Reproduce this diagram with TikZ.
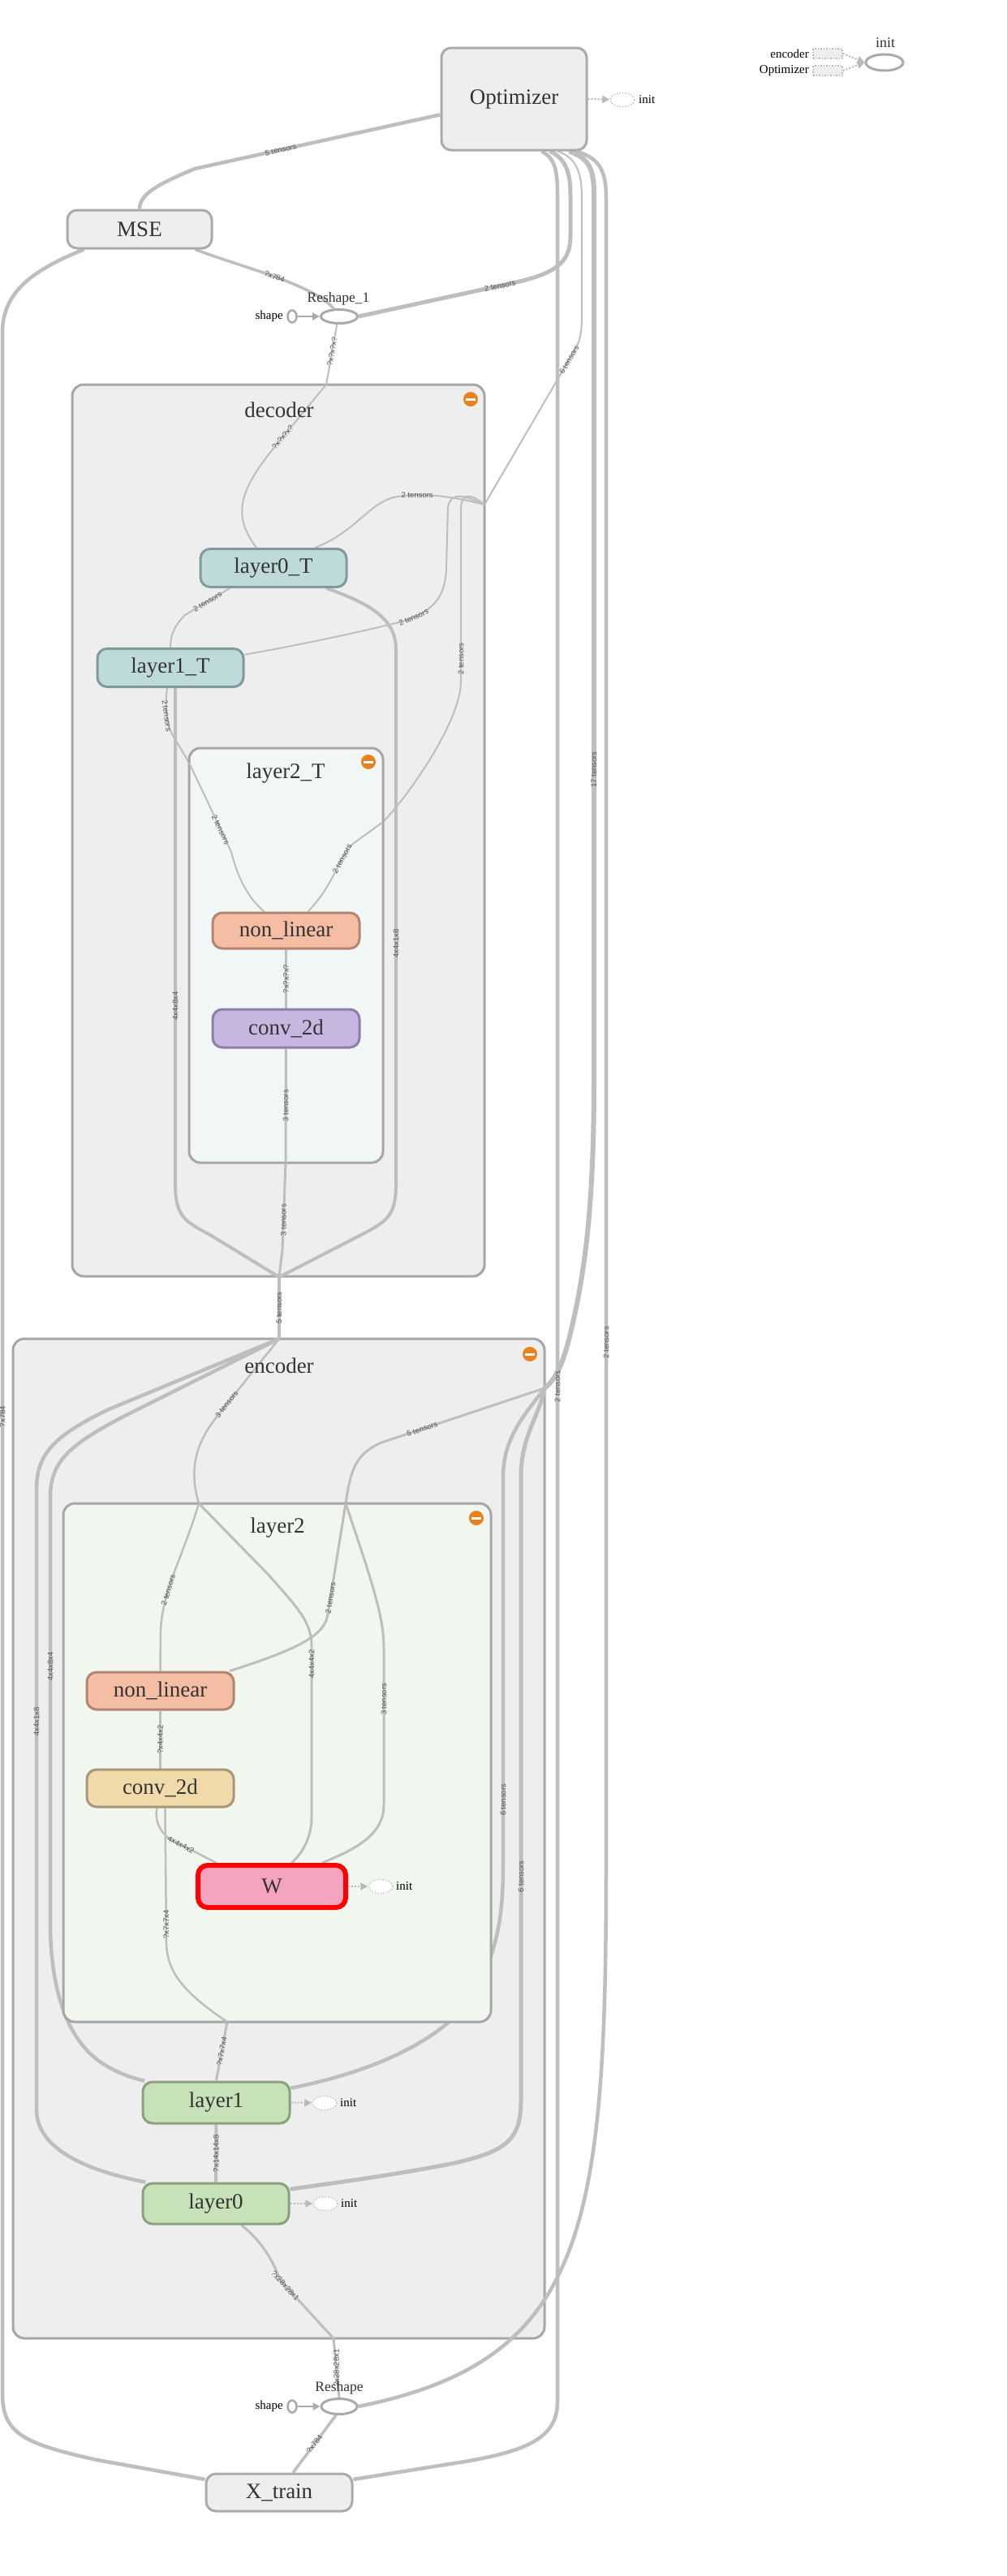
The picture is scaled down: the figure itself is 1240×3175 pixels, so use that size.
\documentclass[tikz,border=0pt]{standalone}
\usepackage{fontspec}
\setmainfont{Liberation Serif}
\setsansfont{Liberation Sans}
\usetikzlibrary{calc,arrows.meta,shapes.geometric}
\pgfdeclarelayer{groups}
\pgfdeclarelayer{flows}
\pgfdeclarelayer{inner}
\pgfsetlayers{groups,flows,inner,main}

\begin{document}
\begin{tikzpicture}[>=Latex, x=1pt, y=-1pt,
  opnode/.style 2 args={draw=#2, fill=#1, line width=3pt, rounded corners=12pt,
    minimum width=180pt, minimum height=47pt, inner sep=0pt, font=\nodefont, text=txt},
  grp/.style={draw=grpline, fill=#1, line width=3pt, rounded corners=14pt, inner sep=0pt},
  grptitle/.style={font=\nodefont, text=txt},
  flow/.style={draw=edgec, line width=#1},
  flow/.default=2pt,
  lbl/.style={font=\lblfont, text=lblc, sloped, inner sep=1pt},
  vlbl/.style={font=\lblfont, text=lblc, rotate=90, inner sep=1pt},
  smalltxt/.style={font=\smallfont, text=black, inner sep=1pt},
  initc/.style={ellipse, draw=gray!45, dotted, line width=1.5pt, fill=white,
    minimum width=30pt, minimum height=17pt, inner sep=0pt},
  ctrl/.style={draw=gray!55, dotted, line width=2pt, -{Triangle[length=9pt,width=9pt]}},
  arr/.style={draw=nodeline, line width=2.5pt, -{Triangle[length=9pt,width=9pt]}},
  ellnode/.style={ellipse, draw=nodeline, line width=3pt, fill=white, inner sep=0pt},
  legbox/.style={draw=gray!55, dotted, line width=1.5pt, fill=grpfill,
    minimum width=36pt, minimum height=12pt, inner sep=0pt}]

\def\nodefont{\fontsize{27}{30}\selectfont}
\def\lblfont{\fontsize{9.5}{10}\sffamily}
\def\smallfont{\fontsize{15}{17}\selectfont}

\definecolor{txt}{HTML}{333333}
\definecolor{lblc}{HTML}{555555}
\definecolor{edgec}{HTML}{BEBEBE}
\definecolor{grpfill}{HTML}{EEEEEE}
\definecolor{grpline}{HTML}{A6A6A6}
\definecolor{subTfill}{HTML}{F0F7F6}
\definecolor{subfill}{HTML}{F1F6EF}
\definecolor{nodeline}{HTML}{AAAAAA}
\definecolor{tealf}{HTML}{BEDBDA}
\definecolor{teall}{HTML}{7F9A9A}
\definecolor{salmf}{HTML}{F4BDA4}
\definecolor{salml}{HTML}{B18570}
\definecolor{purpf}{HTML}{C7B6E0}
\definecolor{purpl}{HTML}{8E7FA6}
\definecolor{tanf}{HTML}{F1DAA9}
\definecolor{tanl}{HTML}{A8967A}
\definecolor{pinkf}{HTML}{F5A4BF}
\definecolor{greenf}{HTML}{C7E2B8}
\definecolor{greenl}{HTML}{8BA17E}
\definecolor{orangec}{HTML}{E8821E}

\begin{pgfonlayer}{groups}
  \fill[white] (0,0) rectangle (1240,3175);
  \node[grp=grpfill, minimum width=508pt, minimum height=1099pt] (decoder) at (343,1023.5) {};
  \node[grp=grpfill, minimum width=655pt, minimum height=1232pt] (encoder) at (343.5,2266) {};
\end{pgfonlayer}
\useasboundingbox (0,0) rectangle (1240,3175);

\node[grptitle] (dectitle) at (344,505) {decoder};
\node[grptitle] (enctitle) at (344,1683) {encoder};

\begin{pgfonlayer}{inner}
  \node[grp=subTfill, minimum width=239pt, minimum height=511pt] (layer2T) at (352.5,1177.5) {};
  \node[grp=subfill, minimum width=527pt, minimum height=639pt] (layer2) at (341.5,2172.5) {};
\end{pgfonlayer}
\node[grptitle] (l2Ttitle) at (352,953) {layer2\_T};
\node[grptitle] (l2title) at (342,1883) {layer2};

\foreach \x/\y in {580/492, 454/939, 653/1669, 587/1871}{
  \fill[orangec] (\x,\y) circle (9pt);
  \fill[white] (\x-6,\y-1.5) rectangle (\x+6,\y+1.5);
}

% nodes
\node[opnode={grpfill}{nodeline}, minimum width=179pt, minimum height=126pt] (optimizer) at (633.5,122) {Optimizer};
\node[opnode={grpfill}{nodeline}, minimum width=178pt] (mse) at (172,282.5) {MSE};
\node[opnode={grpfill}{nodeline}, minimum height=46pt] (xtrain) at (344,3072) {X\_train};

\node[ellnode, minimum width=45pt, minimum height=17pt] (reshapeA) at (418,390) {};
\node[font=\fontsize{17.5}{19}\selectfont, text=txt] (reshapeAlbl) at (417,368) {Reshape\_1};
\node[ellnode, line width=2.5pt, minimum width=11pt, minimum height=15pt] (shapeA) at (360,390) {};
\node[smalltxt, anchor=east] (shapeAlbl) at (350,390) {shape};

\node[ellnode, minimum width=44pt, minimum height=19pt] (reshapeB) at (418,2966) {};
\node[font=\fontsize{17.5}{19}\selectfont, text=txt] (reshapeBlbl) at (418,2943) {Reshape};
\node[ellnode, line width=2.5pt, minimum width=11pt, minimum height=15pt] (shapeB) at (360,2966) {};
\node[smalltxt, anchor=east] (shapeBlbl) at (350,2966) {shape};

\node[opnode={tealf}{teall}] (layer0T) at (337,700) {layer0\_T};
\node[opnode={tealf}{teall}] (layer1T) at (210,823) {layer1\_T};
\node[opnode={salmf}{salml}, minimum width=181pt, minimum height=44pt] (nonlinT) at (352.5,1147) {non\_linear};
\node[opnode={purpf}{purpl}, minimum width=181pt] (convT) at (352.5,1267.5) {conv\_2d};

\node[opnode={salmf}{salml}, minimum width=181pt, minimum height=46pt] (nonlin) at (197.5,2084) {non\_linear};
\node[opnode={tanf}{tanl}, minimum width=181pt, minimum height=46pt] (conv) at (197.5,2204) {conv\_2d};
\node[opnode={pinkf}{red}, line width=6pt, minimum width=182pt, minimum height=52pt] (wvar) at (335,2325) {W};
\node[opnode={greenf}{greenl}, minimum width=181pt, minimum height=51pt] (layer1) at (266.5,2591.5) {layer1};
\node[opnode={greenf}{greenl}, minimum width=180pt, minimum height=50pt] (layer0) at (266,2716) {layer0};

\node[initc] (optinit) at (767,123) {};
\node[smalltxt, anchor=west] (optinitlbl) at (786,123) {init};
\node[initc] (winit) at (469,2325) {};
\node[smalltxt, anchor=west] (winitlbl) at (487,2325) {init};
\node[initc] (l1init) at (400,2592) {};
\node[smalltxt, anchor=west] (l1initlbl) at (418,2592) {init};
\node[initc] (l0init) at (401,2716) {};
\node[smalltxt, anchor=west] (l0initlbl) at (419,2716) {init};

\node[legbox] (legenc) at (1020,66) {};
\node[smalltxt, anchor=east] (legenclbl) at (998,66) {encoder};
\node[legbox] (legopt) at (1020,87) {};
\node[smalltxt, anchor=east] (legoptlbl) at (998,87) {Optimizer};
\node[ellnode, minimum width=46pt, minimum height=20pt] (leginit) at (1090,77) {};
\node[font=\fontsize{18}{20}\selectfont, text=txt] (leginitlbl) at (1091,53) {init};

\coordinate (dectop) at (402,474);
\coordinate (decright) at (597,622);
\coordinate (decbot) at (344,1574);
\coordinate (l2Tleft) at (233,940);
\coordinate (l2Tright) at (472,1013);
\coordinate (l2Tbot) at (352,1433);
\coordinate (enctop) at (344,1650);
\coordinate (encright) at (671,1711);
\coordinate (encbot) at (411,2882);
\coordinate (l2topa) at (245,1853);
\coordinate (l2topb) at (426,1853);
\coordinate (l2bot) at (280,2492);

\draw[ctrl] (optimizer.east) -- (optinit);
\draw[ctrl] (wvar.east) -- (winit);
\draw[ctrl] (layer1.east) -- (l1init);
\draw[ctrl] (layer0.east) -- (l0init);
\draw[ctrl] (legenc.east) -- (leginit.west);
\draw[ctrl] (legopt.east) -- (leginit.west);
\draw[arr] (shapeA) -- (reshapeA);
\draw[arr] (shapeB) -- (reshapeB);

\begin{pgfonlayer}{flows}
  % top level
  \draw[flow=4.5pt] (optimizer.192) -- node[lbl,pos=0.65]{5 tensors} (240,208) .. controls (192,228) and (172,240) .. (mse.north);
  \draw[flow=3.5pt] (mse.-20) .. controls (300,330) and (385,350) .. node[lbl,pos=0.5]{?x784} (reshapeA.125);
  \draw[flow=5pt] ($(optimizer.south)+(44,0)$) .. controls (698,195) and (703,215) .. (703,240) -- (703,290) .. controls (703,320) and (690,335) .. (640,347) -- node[lbl,pos=0.12]{2 tensors} (reshapeA.east);
  \draw[flow=2pt] (reshapeA.-105) -- node[lbl,pos=0.45]{?x?x?x?} (dectop);
  \draw[flow=2pt] ($(optimizer.south)+(54,0)$) .. controls (712,195) and (717,215) .. (717,245) -- (717,390) .. controls (717,410) and (715,420) .. (708,432) -- node[lbl,pos=0.06]{6 tensors} (decright);
  \draw[flow=6pt] ($(optimizer.south)+(68,0)$) .. controls (727,195) and (732,210) .. (732,240) -- node[vlbl,pos=0.65]{17 tensors} (732,1330) .. controls (732,1480) and (722,1570) .. (700,1655) .. controls (692,1685) and (683,1702) .. (encright);
  \draw[flow=4.5pt] ($(optimizer.south)+(76,0)$) .. controls (742,195) and (747,215) .. (747,245) -- node[vlbl,pos=0.686]{2 tensors} (747,2300) .. controls (747,2750) and (720,2910) .. (reshapeB.east);
  \draw[flow=4.5pt] ($(optimizer.south)+(34,0)$) .. controls (684,195) and (687,210) .. (687,240) -- node[vlbl,pos=0.54]{2 tensors} (687,2960) .. controls (687,3005) and (650,3022) .. (560,3036) -- (xtrain.10);
  \draw[flow=4.5pt] (mse.200) .. controls (40,333) and (3,360) .. (3,410) -- node[vlbl,pos=0.526]{?x784} (3,2950) .. controls (3,3000) and (30,3012) .. (120,3032) -- (xtrain.170);
  \draw[flow=4pt] (decbot) -- node[vlbl]{5 tensors} (enctop);
  \draw[flow=3pt] (encbot) -- node[vlbl]{?x28x28x1} (reshapeB.north);
  \draw[flow=3.5pt] (reshapeB.-110) -- node[lbl]{?x784} (xtrain.55);

  % decoder
  \draw[flow=2pt] (dectop) -- node[lbl,pos=0.8]{?x?x?x?} (335,555) .. controls (300,600) and (283,632) .. (layer0T.130);
  \draw[flow=2pt] (decright) .. controls (560,612) and (520,607) .. node[lbl,pos=0.75]{2 tensors} (490,612) .. controls (455,618) and (440,655) .. (layer0T.26);
  \draw[flow=2pt] (decright) .. controls (575,612) and (556,604) .. (552,625) -- (550,700) .. controls (549,735) and (535,752) .. node[lbl,pos=0.9]{2 tensors} (500,765) .. controls (420,785) and (340,800) .. (layer1T.10);
  \draw[flow=2pt] (decright) .. controls (585,612) and (570,604) .. (568,625) -- node[vlbl,pos=0.87]{2 tensors} (568,840) .. controls (568,890) and (500,985) .. (l2Tright);
  \draw[flow=2pt] (layer0T.205) -- node[lbl,pos=0.5]{2 tensors} (228,758) .. controls (213,773) and (210,785) .. (layer1T.north);
  \draw[flow=4pt] (layer0T.-21) .. controls (450,742) and (488,760) .. (488,800) -- node[vlbl,pos=0.55]{4x4x1x8} (488,1460) .. controls (488,1500) and (475,1506) .. (445,1522) -- (decbot);
  \draw[flow=4pt] ($(layer1T.south)+(6,0)$) -- node[vlbl,pos=0.64]{4x4x8x4} (216,1460) .. controls (216,1500) and (229,1506) .. (259,1522) -- (decbot);
  \draw[flow=2pt] ($(layer1T.south)+(-4,0)$) .. controls (203,870) and (204,895) .. node[lbl,pos=0.5]{2 tensors} (217,913) -- (l2Tleft);
  \draw[flow=3pt] (l2Tbot) -- node[vlbl,pos=0.66]{3 tensors} (348,1540) -- (decbot);

  % encoder
  \draw[flow=4.5pt] (enctop) -- (134,1737) .. controls (70,1768) and (45,1790) .. (45,1835) -- node[vlbl,pos=0.375]{4x4x1x8} (45,2600) .. controls (45,2650) and (110,2676) .. (layer0.163);
  \draw[flow=4.5pt] (enctop) -- (150,1747) .. controls (88,1780) and (62,1800) .. (62,1845) -- node[vlbl,pos=0.39]{4x4x8x4} (62,2380) .. controls (64,2450) and (80,2500) .. (110,2530) .. controls (130,2550) and (160,2561) .. (layer1.163);
  \draw[flow=2.5pt] (enctop) -- node[lbl,pos=0.85]{3 tensors} (268,1745) .. controls (240,1780) and (233,1812) .. (l2topa);
  \draw[flow=3pt] (encright) -- node[lbl,pos=0.75]{5 tensors} (470,1778) .. controls (438,1792) and (432,1812) .. (l2topb);
  \draw[flow=4.5pt] (encright) .. controls (650,1740) and (620,1770) .. (620,1820) -- node[vlbl,pos=0.83]{6 tensors} (620,2300) .. controls (620,2360) and (613,2390) .. (600,2425) .. controls (580,2490) and (500,2545) .. (layer1.11);
  \draw[flow=5pt] (encright) .. controls (665,1745) and (642,1770) .. (642,1820) -- node[vlbl,pos=0.64]{6 tensors} (642,2590) .. controls (642,2640) and (620,2652) .. (560,2666) .. controls (480,2682) and (400,2692) .. (layer0.11);
  \draw[flow=3pt] (l2bot) -- node[lbl]{?x7x7x4} (layer1.north);
  \draw[flow=4pt] (layer1) -- node[vlbl]{?x14x14x8} (layer0);
  \draw[flow=3pt] (layer0.-40) .. controls (322,2762) and (336,2785) .. (345,2810) -- node[lbl,pos=0.1]{?x28x28x1} (encbot);
\end{pgfonlayer}

\begin{pgfonlayer}{inner}
  % layer2_T
  \draw[flow=2pt] (l2Tleft) -- node[lbl,pos=0.75]{2 tensors} (285,1050) .. controls (295,1090) and (310,1110) .. (nonlinT.139);
  \draw[flow=2pt] (l2Tright) -- (435,1040) .. controls (418,1055) and (412,1090) .. node[lbl,pos=0.3]{2 tensors} (nonlinT.41);
  \draw[flow=2.5pt] (nonlinT) -- node[vlbl]{?x?x?x?} (convT);
  \draw[flow=3pt] (convT) -- node[vlbl,pos=0.5]{3 tensors} (l2Tbot);

  % layer2
  \draw[flow=2.5pt] (l2topa) .. controls (225,1920) and (200,1960) .. node[lbl,pos=0.65]{2 tensors} (198,2010) -- (nonlin.north);
  \draw[flow=3pt] (l2topa) -- (330,1940) .. controls (370,1985) and (384,2000) .. (384,2030) -- node[vlbl,pos=0.1]{4x4x4x2} (384,2240) .. controls (384,2265) and (372,2285) .. (wvar.50);
  \draw[flow=3pt] (l2topb) -- node[lbl,pos=0.85]{2 tensors} (404,1990) .. controls (400,2015) and (370,2032) .. (nonlin.16);
  \draw[flow=3pt] (l2topb) .. controls (455,1940) and (473,1990) .. (473,2030) -- node[vlbl,pos=0.33]{3 tensors} (473,2225) .. controls (473,2265) and (430,2282) .. (wvar.25);
  \draw[flow=2.5pt] ($(conv.south)+(-4,0)$) .. controls (190,2245) and (198,2260) .. (212,2268) -- node[lbl,pos=0.2]{4x4x4x2} (wvar.157);
  \draw[flow=2.5pt] ($(conv.south)+(6,0)$) -- node[vlbl,pos=0.86]{?x7x7x4} (205,2395) .. controls (206,2430) and (225,2455) .. (l2bot);
  \draw[flow=2.5pt] (nonlin) -- node[vlbl]{?x4x4x2} (conv);
\end{pgfonlayer}

\end{tikzpicture}
\end{document}
